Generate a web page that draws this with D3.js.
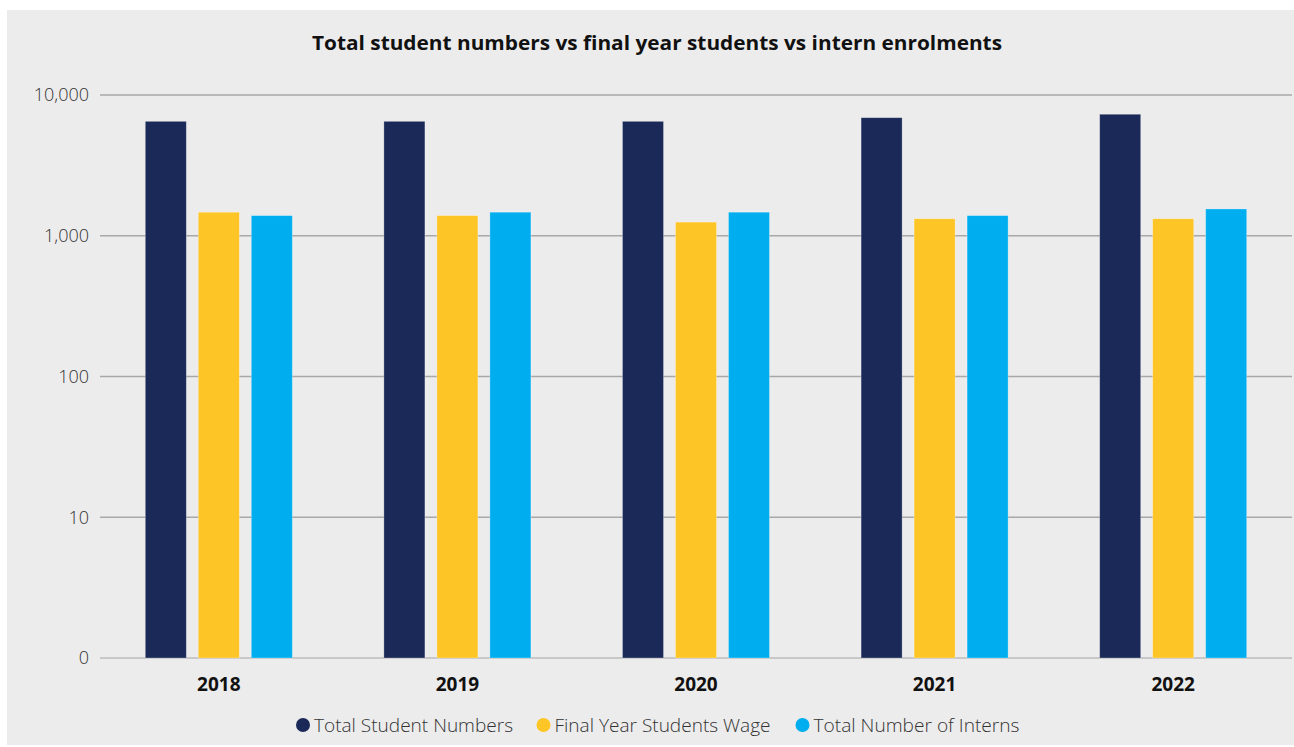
<!DOCTYPE html>
<html><head><meta charset="utf-8">
<script src="https://cdn.jsdelivr.net/npm/d3@7"></script>
<style>
html,body{margin:0;padding:0;background:#fff;}
svg{display:block;}
text{font-family:"Open Sans",sans-serif;}
</style></head>
<body><svg id="c" width="1294" height="747"></svg>
<script>
const years = ["2018","2019","2020","2021","2022"];
const seriesNames = ["Total Student Numbers","Final Year Students Wage","Total Number of Interns"];
const totalStudents = [6500, 6500, 6500, 6900, 7300];
const finalYear = [1470, 1390, 1250, 1320, 1320];
const interns = [1390, 1470, 1470, 1390, 1550];
const yTicks = [1, 10, 100, 1000, 10000];
const yTickLabels = ["0","10","100","1,000","10,000"];
const colors = ["#1a2957","#fec526","#00aeef"];
const title = "Total student numbers vs final year students vs intern enrolments";

const seriesValues = [totalStudents, finalYear, interns];
const svg = d3.select("#c");
svg.append("rect").attr("x",7).attr("y",10).attr("width",1287).attr("height",735).attr("fill","#ececec");

svg.append("text").attr("x",657).attr("y",50).attr("text-anchor","middle")
  .attr("font-size",19).attr("font-weight",700).attr("fill","#111")
  .attr("textLength",690).attr("lengthAdjust","spacingAndGlyphs").text(title);

const y = d3.scaleLog().domain([1,10000]).range([658,95]);
const x0 = d3.scaleBand().domain(years).range([99.5,1292.5]).padding(0);
const x1 = d3.scaleBand().domain(seriesNames).range([0,x0.bandwidth()]).paddingInner(0.226).paddingOuter(0.864);

// gridlines
const grid = svg.append("g");
grid.selectAll("line").data(yTicks).join("line")
  .attr("x1",100).attr("x2",1292)
  .attr("y1",d=>y(d)).attr("y2",d=>y(d))
  .attr("stroke",d=>d===1?"#bdbdbd":"#a8a8a8").attr("stroke-width",1.4);

// y axis labels
const yAxis = d3.axisLeft(y).tickValues(yTicks).tickFormat((d,i)=>yTickLabels[i]).tickSize(0).tickPadding(0);
const ya = svg.append("g").attr("transform","translate(89,0)").call(yAxis);
ya.select(".domain").remove();
ya.selectAll("text").attr("font-size",18).attr("font-weight",300).attr("fill","#333").attr("font-family","Open Sans");

// bars
const groups = svg.append("g").selectAll("g").data(years).join("g")
  .attr("transform",d=>`translate(${x0(d)},0)`);
groups.selectAll("rect").data((d,i)=>seriesNames.map((s,j)=>({s, v:seriesValues[j][i], j})))
  .join("rect")
  .attr("x",d=>x1(d.s)).attr("width",x1.bandwidth())
  .attr("y",d=>y(d.v)).attr("height",d=>y(1)-y(d.v))
  .attr("fill",d=>colors[d.j])
  .attr("stroke","rgba(255,255,255,0.35)").attr("stroke-width",0.8);

// x axis labels
const xAxis = d3.axisBottom(x0).tickSize(0).tickPadding(0);
const xa = svg.append("g").attr("transform","translate(0,691)").call(xAxis);
xa.select(".domain").remove();
xa.selectAll("text").attr("font-size",19).attr("font-weight",700).attr("fill","#111").attr("dy","0").attr("font-family","Open Sans");

// legend
const legendCx = [303, 543.5, 802.5];
const legendW = [199, 216, 206];
const lg = svg.append("g");
seriesNames.forEach((s,i)=>{
  lg.append("circle").attr("cx",legendCx[i]).attr("cy",725).attr("r",7).attr("fill",colors[i]);
  lg.append("text").attr("x",legendCx[i]+11).attr("y",731.5).attr("font-size",18).attr("font-weight",300)
    .attr("fill","#333").attr("textLength",legendW[i]).attr("lengthAdjust","spacingAndGlyphs").text(s);
});
</script></body></html>
